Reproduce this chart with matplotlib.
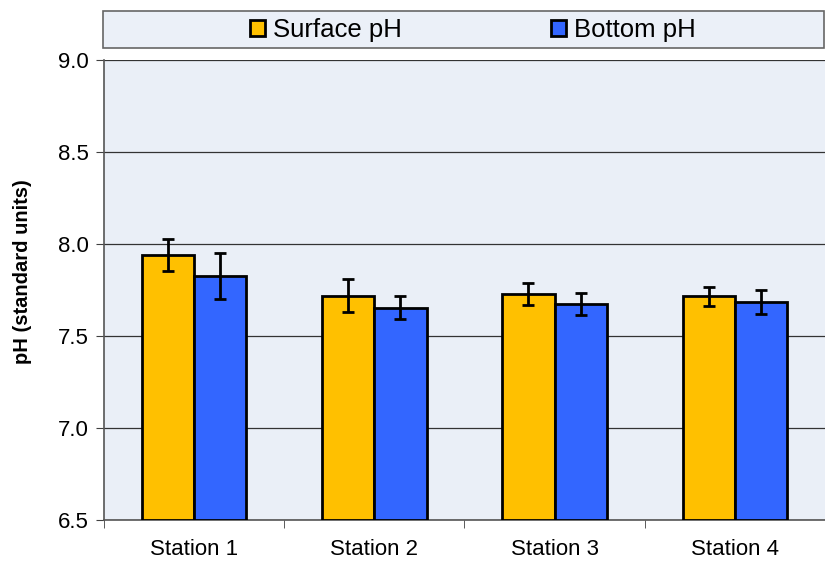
import numpy as np
import matplotlib.pyplot as plt
from matplotlib.patches import Rectangle

plt.rcParams['font.family'] = ['Liberation Sans', 'DejaVu Sans']

stations = ['Station 1', 'Station 2', 'Station 3', 'Station 4']
surface_ph = [7.94, 7.72, 7.73, 7.715]
surface_err = [0.085, 0.09, 0.06, 0.05]
bottom_ph = [7.825, 7.655, 7.676, 7.685]
bottom_err = [0.125, 0.06, 0.06, 0.065]

fig = plt.figure(figsize=(8.25, 5.61), dpi=100)
ax = fig.add_axes([0.126, 0.073, 0.874, 0.820])
ax.set_facecolor('#EAEFF7')

x = np.arange(len(stations))
w = 0.29
ekw = dict(elinewidth=2, capthick=2, capsize=4.5, ecolor='black')
ax.bar(x - w / 2, np.array(surface_ph) - 6.5, w, bottom=6.5, color='#FFC000',
       edgecolor='black', linewidth=2, yerr=surface_err, error_kw=ekw,
       label='Surface pH', zorder=3)
ax.bar(x + w / 2, np.array(bottom_ph) - 6.5, w, bottom=6.5, color='#3366FF',
       edgecolor='black', linewidth=2, yerr=bottom_err, error_kw=ekw,
       label='Bottom pH', zorder=3)

ax.set_ylim(6.5, 9.0)
ax.set_xlim(-0.5, 3.5)
ax.set_yticks(np.arange(6.5, 9.01, 0.5))
ax.set_yticklabels(['%.1f' % v for v in np.arange(6.5, 9.01, 0.5)], fontsize=16)
ax.set_xticks(x)
ax.set_xticklabels(stations, fontsize=16)
ax.tick_params(axis='x', length=0, pad=14)
ax.set_xticks(np.arange(-0.5, 3.6, 1), minor=True)
ax.tick_params(axis='x', which='minor', length=6, color='#404040')
ax.tick_params(axis='y', length=6, color='#404040', pad=5)
ax.grid(axis='y', color='#333333', linewidth=0.9, zorder=0)
ax.set_axisbelow(True)
for s in ['top', 'right']:
    ax.spines[s].set_visible(False)
for s in ['left', 'bottom']:
    ax.spines[s].set_color('#555555')
    ax.spines[s].set_linewidth(1.2)
ax.set_ylabel('pH (standard units)', fontsize=14.5, fontweight='bold')
ax.yaxis.set_label_coords(-0.100, 0.541)

# legend box above the plot
fig.patches.append(Rectangle((0.1248, 0.9144), 0.874, 0.0656, transform=fig.transFigure,
                             facecolor='#EBF0F8', edgecolor='#666666', linewidth=1.2))
fig.legend(loc='center', bbox_to_anchor=(0.573, 0.947), ncol=2, frameon=False,
           fontsize=18.5, handlelength=0.6, handleheight=0.6, handletextpad=0.3,
           columnspacing=5.8)

fig.savefig('out.png', dpi=100)
